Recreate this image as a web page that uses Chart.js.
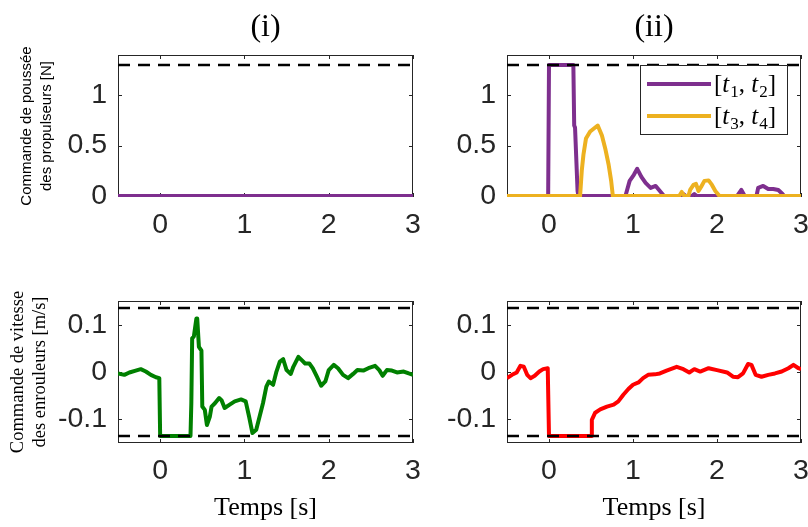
<!DOCTYPE html>
<html>
<head>
<meta charset="utf-8">
<script src="https://cdn.jsdelivr.net/npm/chart.js@4.4.0/dist/chart.umd.min.js"></script>
<style>
  body { margin: 0; background: #fff; width: 808px; height: 527px; position: relative; overflow: hidden; }
  canvas { position: absolute; }
</style>
</head>
<body>
<canvas id="thrustI" width="430" height="262" style="left:0;top:0"></canvas>
<canvas id="thrustII" width="378" height="262" style="left:430px;top:0"></canvas>
<canvas id="speedI" width="430" height="265" style="left:0;top:262px"></canvas>
<canvas id="speedII" width="378" height="265" style="left:430px;top:262px"></canvas>
<script>
// Axis ticks
const timeTicks = [0, 1, 2, 3];
const thrustTicks = [0, 0.5, 1];
const speedTicks = [-0.1, 0, 0.1];

// Saturation limits
const thrustLimit = 1.3;
const speedLimit = 0.135;

// (i) thrust command: stays at zero
const thrustI = [[-0.5, 0], [3, 0]];

// (ii) thrust command, interval [t1, t2]
const thrustIIa = [
  [-0.5, 0], [-0.01, 0], [0.0, 1.3], [0.29, 1.3], [0.30, 0.70], [0.31, 0.68], [0.34, 0.05], [0.35, 0],
  [0.91, 0], [0.96, 0.15], [1.01, 0.21], [1.05, 0.27], [1.10, 0.19], [1.15, 0.13], [1.21, 0.08],
  [1.27, 0.10], [1.34, 0.03], [1.37, 0], [1.57, 0], [1.60, 0.02], [1.63, 0], [1.70, 0], [1.73, 0.02],
  [1.76, 0], [2.24, 0], [2.29, 0.06], [2.33, 0], [2.47, 0], [2.49, 0.08], [2.55, 0.10], [2.61, 0.07],
  [2.67, 0.07], [2.73, 0.06], [2.78, 0.02], [2.80, 0], [3.0, 0]
];

// (ii) thrust command, interval [t3, t4]
const thrustIIb = [
  [-0.5, 0], [0.37, 0], [0.39, 0.25], [0.41, 0.41], [0.44, 0.57], [0.49, 0.64], [0.55, 0.68], [0.58, 0.70],
  [0.63, 0.60], [0.67, 0.47], [0.71, 0.31], [0.74, 0.15], [0.76, 0], [1.55, 0], [1.58, 0.04], [1.61, 0],
  [1.66, 0], [1.68, 0.06], [1.72, 0.11], [1.75, 0.12], [1.78, 0.05], [1.81, 0.09], [1.85, 0.15],
  [1.90, 0.155], [1.94, 0.11], [1.98, 0.05], [2.03, 0], [3.0, 0]
];

// (i) winch speed command
const speedI = [
  [-0.5, -0.003], [-0.425, -0.006], [-0.365, -0.001], [-0.29, 0.003], [-0.23, 0.006], [-0.17, 0.001],
  [-0.11, -0.006], [-0.05, -0.011], [-0.01, -0.013], [0.0, -0.135], [0.36, -0.135], [0.37, -0.066],
  [0.38, 0.071], [0.40, 0.075], [0.43, 0.113], [0.44, 0.113], [0.46, 0.053], [0.49, 0.045], [0.50, -0.073],
  [0.53, -0.08], [0.555, -0.112], [0.59, -0.094], [0.61, -0.073], [0.65, -0.066], [0.70, -0.055],
  [0.73, -0.06], [0.765, -0.076], [0.825, -0.069], [0.885, -0.062], [0.96, -0.058], [1.015, -0.062],
  [1.055, -0.094], [1.095, -0.129], [1.14, -0.122], [1.18, -0.094], [1.22, -0.066], [1.26, -0.031],
  [1.29, -0.02], [1.34, -0.027], [1.38, 0.001], [1.42, 0.022], [1.46, 0.027], [1.50, 0.004],
  [1.55, -0.004], [1.58, 0.011], [1.64, 0.032], [1.68, 0.025], [1.72, 0.018], [1.77, 0.018],
  [1.81, 0.008], [1.86, -0.01], [1.91, -0.029], [1.96, -0.02], [2.0, 0.004], [2.06, 0.015],
  [2.11, 0.008], [2.17, -0.006], [2.23, -0.013], [2.29, -0.004], [2.34, 0.004], [2.41, 0.003],
  [2.47, 0.008], [2.55, 0.013], [2.60, 0.004], [2.64, -0.008], [2.69, 0.004], [2.75, 0.003],
  [2.81, -0.001], [2.89, 0.001], [2.95, -0.003], [3.0, -0.006]
];

// (ii) winch speed command
const speedII = [
  [-0.5, -0.013], [-0.44, -0.006], [-0.385, -0.001], [-0.34, 0.013], [-0.30, 0.011], [-0.26, -0.006],
  [-0.22, -0.013], [-0.17, -0.008], [-0.115, 0.001], [-0.07, 0.006], [-0.015, 0.008], [0.0, -0.135],
  [0.50, -0.135], [0.51, -0.101], [0.55, -0.086], [0.61, -0.079], [0.69, -0.073], [0.77, -0.069],
  [0.825, -0.062], [0.885, -0.048], [0.945, -0.036], [1.0, -0.027], [1.065, -0.022], [1.12, -0.013],
  [1.18, -0.006], [1.26, -0.005], [1.32, -0.003], [1.40, 0.003], [1.52, 0.011], [1.60, 0.006],
  [1.67, -0.001], [1.73, 0.006], [1.80, 0.001], [1.90, 0.008], [2.0, 0.004], [2.12, -0.001],
  [2.19, -0.01], [2.25, -0.011], [2.31, -0.003], [2.37, 0.017], [2.41, 0.015], [2.46, -0.006],
  [2.53, -0.01], [2.61, -0.006], [2.69, -0.003], [2.77, 0.001], [2.85, 0.008], [2.91, 0.015],
  [2.97, 0.008], [3.0, 0.006]
];

const PURPLE = '#7E2F8E';
const ORANGE = '#EDB120';
const GREEN = '#008000';
const RED = '#FF0000';
const AXIS = '#262626';
const SANS = '"Liberation Sans", Arial, sans-serif';
const SERIF = '"Liberation Serif", "Times New Roman", serif';

const toXY = pts => pts.map(([x, y]) => ({ x, y }));

function series(pts, color, label, order) {
  return {
    label, data: toXY(pts), borderColor: color, borderWidth: 4,
    borderJoinStyle: 'round', pointRadius: 0, tension: 0, fill: false, order, inLegend: !!label
  };
}

function limit(value) {
  return {
    data: [{ x: -0.5, y: value }, { x: 3, y: value }],
    borderColor: '#000', borderWidth: 2.5, borderDash: [12, 8],
    pointRadius: 0, fill: false, order: 0
  };
}

// MATLAB-style box with inward tick marks on all four sides
const boxPlugin = {
  id: 'boxTicks',
  beforeDatasetsDraw(chart) {
    const { ctx, chartArea: a, scales: { x, y } } = chart;
    ctx.save();
    ctx.strokeStyle = AXIS;
    ctx.lineWidth = 1;
    ctx.strokeRect(Math.round(a.left) + 0.5, Math.round(a.top) + 0.5,
      Math.round(a.width) - 1, Math.round(a.height) - 1);
    ctx.beginPath();
    x.ticks.forEach(t => {
      const px = Math.round(x.getPixelForValue(t.value)) + 0.5;
      ctx.moveTo(px, a.bottom); ctx.lineTo(px, a.bottom - 4);
      ctx.moveTo(px, a.top); ctx.lineTo(px, a.top + 4);
    });
    y.ticks.forEach(t => {
      const py = Math.round(y.getPixelForValue(t.value)) + 0.5;
      ctx.moveTo(a.left, py); ctx.lineTo(a.left + 4, py);
      ctx.moveTo(a.right, py); ctx.lineTo(a.right - 4, py);
    });
    ctx.stroke();
    ctx.restore();
  }
};

// Legend with LaTeX-like labels such as [t_1, t_2]
const mathLegend = {
  id: 'mathLegend',
  afterDatasetsDraw(chart, args, opts) {
    if (!opts || !opts.display) return;
    const { ctx, chartArea: a } = chart;
    const items = chart.data.datasets.filter(d => d.inLegend);
    const w = 147, h = 69;
    const left = a.right - 14 - w, top = a.top + 10;
    ctx.save();
    ctx.fillStyle = '#fff';
    ctx.fillRect(left, top, w, h);
    ctx.strokeStyle = AXIS;
    ctx.lineWidth = 1;
    ctx.strokeRect(Math.round(left) + 0.5, Math.round(top) + 0.5, w, h);
    items.forEach((d, i) => {
      const cy = top + 19 + i * 32;
      ctx.strokeStyle = d.borderColor;
      ctx.lineWidth = 4;
      ctx.beginPath();
      ctx.moveTo(left + 7, cy); ctx.lineTo(left + 71, cy);
      ctx.stroke();
      let x = left + 74;
      const base = cy + 8;
      ctx.fillStyle = '#000';
      ctx.textBaseline = 'alphabetic';
      d.label.match(/_\d|[a-z]|[^a-z_]+/g).forEach(tok => {
        if (tok[0] === '_') {
          ctx.font = '17px ' + SERIF;
          ctx.fillText(tok.slice(1), x, base + 5);
          x += ctx.measureText(tok.slice(1)).width;
        } else if (/[a-z]/.test(tok)) {
          ctx.font = 'italic 25px ' + SERIF;
          ctx.fillText(tok, x, base);
          x += ctx.measureText(tok).width + 1;
        } else {
          ctx.font = '25px ' + SERIF;
          ctx.fillText(tok, x, base);
          x += ctx.measureText(tok).width;
        }
      });
    });
    ctx.restore();
  }
};

function makeChart(id, cfg) {
  const tickFont = { family: SANS, size: 28.5 };
  return new Chart(document.getElementById(id), {
    type: 'line',
    data: { datasets: cfg.datasets },
    options: {
      responsive: false,
      animation: false,
      events: [],
      layout: { padding: cfg.padding },
      plugins: {
        legend: { display: false },
        tooltip: { enabled: false },
        title: cfg.title ? {
          display: true, text: cfg.title, fullSize: false, color: '#000',
          font: { family: SERIF, size: 32, weight: 'normal' },
          padding: { top: 8.8, bottom: 7.8 }
        } : { display: false },
        mathLegend: { display: !!cfg.legend }
      },
      scales: {
        x: {
          type: 'linear', min: -0.5, max: 3,
          grid: { display: false, drawTicks: false },
          border: { display: false },
          ticks: { font: tickFont, color: AXIS, padding: 11, maxRotation: 0, autoSkip: false, callback: v => String(v) },
          afterBuildTicks: s => { s.ticks = timeTicks.map(v => ({ value: v })); },
          afterFit: s => { s.height = cfg.xHeight; s.paddingLeft = 0; s.paddingRight = 0; },
          title: cfg.xTitle ? {
            display: true, text: cfg.xTitle, color: '#000',
            font: { family: SERIF, size: 26 }, padding: { top: 0, bottom: 3.4 }
          } : { display: false }
        },
        y: {
          type: 'linear', min: cfg.yMin, max: cfg.yMax,
          grid: { display: false, drawTicks: false },
          border: { display: false },
          ticks: { font: tickFont, color: AXIS, padding: 11, autoSkip: false, callback: v => String(v) },
          afterBuildTicks: s => { s.ticks = cfg.yTicks.map(v => ({ value: v })); },
          afterFit: s => { s.width = cfg.yWidth; s.paddingTop = 0; s.paddingBottom = 0; },
          title: cfg.yTitle ? Object.assign({ display: true, color: '#000' }, cfg.yTitle) : { display: false }
        }
      }
    },
    plugins: [boxPlugin, mathLegend]
  });
}

makeChart('thrustI', {
  datasets: [limit(thrustLimit), series(thrustI, PURPLE, null, 2)],
  padding: { left: 0, right: 17, top: 0, bottom: 0 },
  title: '(i)', xHeight: 65, yWidth: 118,
  yMin: -0.01, yMax: 1.4, yTicks: thrustTicks,
  yTitle: {
    text: ['Commande de poussée', 'des propulseurs [N]'],
    font: { family: SANS, size: 15, lineHeight: 20 / 15 }, padding: { top: 17, bottom: 0 }
  }
});

makeChart('thrustII', {
  datasets: [limit(thrustLimit), series(thrustIIa, PURPLE, '[t_1, t_2]', 2), series(thrustIIb, ORANGE, '[t_3, t_4]', 1)],
  padding: { left: 0, right: 7, top: 0, bottom: 0 },
  title: '(ii)', xHeight: 65, yWidth: 77, legend: true,
  yMin: -0.01, yMax: 1.4, yTicks: thrustTicks
});

makeChart('speedI', {
  datasets: [limit(speedLimit), limit(-speedLimit), series(speedI, GREEN, null, 1)],
  padding: { left: 0, right: 17, top: 39, bottom: 0 },
  xHeight: 84, yWidth: 118, xTitle: 'Temps [s]',
  yMin: -0.15, yMax: 0.15, yTicks: speedTicks,
  yTitle: {
    text: ['Commande de vitesse', 'des enrouleurs [m/s]'],
    font: { family: SERIF, size: 18.5, lineHeight: 22 / 18.5 }, padding: { top: 7, bottom: 0 }
  }
});

makeChart('speedII', {
  datasets: [limit(speedLimit), limit(-speedLimit), series(speedII, RED, null, 1)],
  padding: { left: 0, right: 7, top: 39, bottom: 0 },
  xHeight: 84, yWidth: 77, xTitle: 'Temps [s]',
  yMin: -0.15, yMax: 0.15, yTicks: speedTicks
});
</script>
</body>
</html>
